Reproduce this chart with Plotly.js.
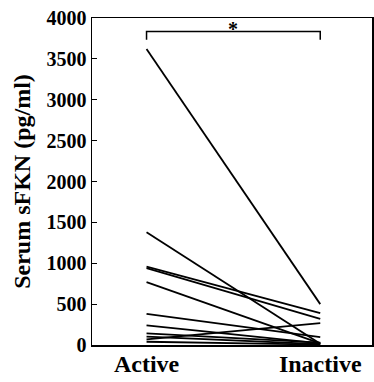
<!DOCTYPE html>
<html>
<head>
<meta charset="utf-8">
<script src="https://cdn.plot.ly/plotly-3.0.1.min.js"></script>
<style>html,body{margin:0;padding:0;background:#fff;}#chart{width:374px;height:382px;}</style>
</head>
<body>
<div id="chart"></div>
<script>
const groups = ["Active", "Inactive"];
const groupPos = [0, 1];
const activeVals = [3620, 1380, 960, 940, 770, 380, 240, 143, 102, 70, 40];
const inactiveVals = [500, 15, 390, 320, 20, 95, 20, 30, 10, 268, 5];
const bracketX = [0, 0, 1, 1];
const bracketY = [3735, 3836, 3836, 3735];
const sigLabel = "*";
const yTicks = [0, 500, 1000, 1500, 2000, 2500, 3000, 3500, 4000];

const traces = activeVals.map((a, i) => ({
  x: groupPos, y: [a, inactiveVals[i]], type: "scatter", mode: "lines",
  line: {color: "#000", width: 1.8}, hoverinfo: "skip", showlegend: false
}));
traces.push({x: bracketX, y: bracketY, type: "scatter", mode: "lines",
  line: {color: "#000", width: 1.5}, showlegend: false, hoverinfo: "skip"});

const font = "Liberation Serif";
const layout = {
  width: 374, height: 382,
  font: {family: font, color: "#000"},
  margin: {l: 92, r: 2, t: 18, b: 37},
  paper_bgcolor: "#fff", plot_bgcolor: "#fff",
  showlegend: false,
  xaxis: {
    range: [-0.314, 1.298], tickvals: groupPos, ticktext: groups,
    showgrid: false, zeroline: false, showline: true, mirror: true,
    linecolor: "#000", linewidth: 1.5, ticks: "",
    tickfont: {family: font, size: 24, color: "#000", weight: "bold"},
    ticklabelstandoff: -3
  },
  yaxis: {
    range: [0, 4000], tickvals: yTicks,
    showgrid: false, zeroline: false, showline: true, mirror: true,
    linecolor: "#000", linewidth: 1.5, ticks: "inside", ticklen: 5, tickcolor: "#000",
    tickfont: {family: font, size: 20, color: "#000", weight: "bold"},
    title: {text: "Serum sFKN (pg/ml)", font: {family: font, size: 24, color: "#000", weight: "bold"}, standoff: 9}
  },
  annotations: [{
    x: 0.5, y: bracketY[1], xref: "x", yref: "y", text: sigLabel, showarrow: false,
    yanchor: "middle", yshift: 2,
    font: {family: font, size: 20, color: "#000", weight: "bold"}
  }]
};
Plotly.newPlot("chart", traces, layout, {displayModeBar: false, staticPlot: true});
</script>
</body>
</html>
